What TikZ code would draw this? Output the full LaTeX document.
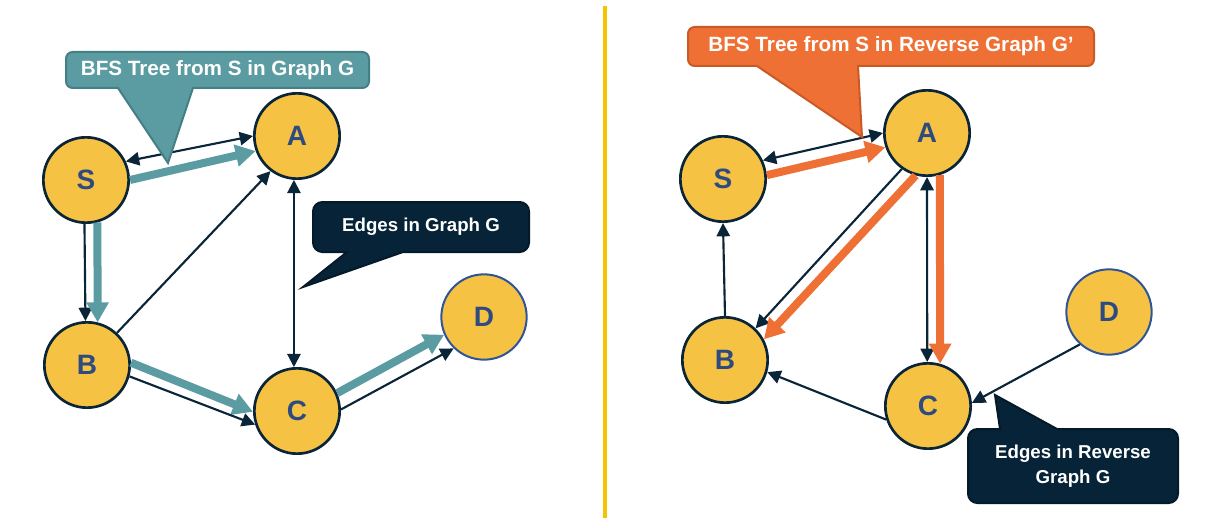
\documentclass[tikz,border=0pt]{standalone}
\usepackage{fontspec}
\setmainfont{Liberation Sans}
\usetikzlibrary{arrows.meta}
\definecolor{nodefill}{HTML}{F6C244}
\definecolor{lettercol}{HTML}{2E4B80}
\definecolor{edgecol}{HTML}{0B2538}
\definecolor{tealc}{HTML}{5B9BA2}
\definecolor{tealdark}{HTML}{457F86}
\definecolor{orangec}{HTML}{EF7035}
\definecolor{orangedark}{HTML}{C95A25}
\definecolor{darkbox}{HTML}{062338}
\definecolor{darkboxline}{HTML}{041A2A}
\definecolor{goldline}{HTML}{F7C200}
\definecolor{dborder}{HTML}{2F5597}
\begin{document}
\begin{tikzpicture}[x=0.75pt,y=-0.75pt,
  vertex/.style={circle,draw=edgecol,line width=2pt,fill=nodefill,minimum size=64pt,inner sep=0pt,text=lettercol,font=\fontsize{21}{24}\selectfont\bfseries},
  dvertex/.style={vertex,draw=dborder,line width=1.5pt},
  thinedge/.style={draw=edgecol,line width=1.6pt,-{Triangle[length=10pt,width=10pt]}},
  bothedge/.style={draw=edgecol,line width=1.6pt,{Triangle[length=10pt,width=10pt]}-{Triangle[length=10pt,width=10pt]}},
  treeedge/.style={line width=6pt,-{Triangle[length=15pt,width=16pt]}},
  tealtree/.style={treeedge,draw=tealc},
  orangetree/.style={treeedge,draw=orangec},
  calloutshape/.style={line width=1.5pt},
  titletext/.style={text=white,font=\fontsize{15.5}{18}\selectfont\bfseries,inner sep=0pt},
  notetext/.style={text=white,font=\fontsize{14}{17}\selectfont\bfseries,inner sep=0pt,align=center},
  divider/.style={draw=goldline,line width=3pt}
]
\useasboundingbox (0,0) rectangle (1217,528);

% divider
\coordinate (dtop) at (605,6);
\coordinate (dbot) at (605,518);
\draw[divider] (dtop) -- (dbot);

% ---------- left graph ----------
\node[vertex] (S) at (86,180) {S};
\node[vertex] (A) at (297,136) {A};
\node[vertex] (B) at (87,365) {B};
\node[vertex] (C) at (297,411) {C};
\node[dvertex] (D) at (484,317) {D};

\draw[bothedge] (S.25) -- (A.180);
\draw[tealtree] (S.0) -- (A.200);
\draw[thinedge] (S.268) -- (B.92);
\draw[tealtree] (S.285) -- (B.76);
\draw[thinedge] (B.47) -- (A.233);
\draw[bothedge] (A.266) -- (C.94);
\draw[tealtree] (B.3) -- (C.181);
\draw[thinedge] (B.345) -- (C.198);
\draw[tealtree] (C.24) -- (D.204);
\draw[thinedge] (C.2) -- (D.226);

% teal callout
\draw[calloutshape,draw=tealdark,fill=tealc]
  (193,88) -- (340,88) [rounded corners=5pt] -- (369,88) -- (369,52) -- (66,52) -- (66,88) -- (95,88) [sharp corners] -- (118,88) -- (168,163) -- cycle;
\node[titletext] (t1) at (217.5,70) {BFS Tree from S in Graph G};

% dark callout left
\draw[calloutshape,draw=darkboxline,fill=darkbox]
  (403,252) -- (500,252) [rounded corners=7pt] -- (529,252) -- (529,202) -- (313,202) -- (313,252) -- (332,252) [sharp corners] -- (347,252) -- (303,287) -- cycle;
\node[notetext] (n1) at (421,227) {Edges in Graph G};

% ---------- right graph ----------
\node[vertex] (S2) at (723,179) {S};
\node[vertex] (A2) at (927,133) {A};
\node[vertex] (B2) at (725,360) {B};
\node[vertex] (C2) at (928,406) {C};
\node[dvertex] (D2) at (1109,312) {D};

\draw[bothedge] (S2.25) -- (A2.180);
\draw[orangetree] (S2.5) -- (A2.199);
\draw[thinedge] (A2.235) -- (B2.46);
\draw[orangetree] (A2.255) -- (B2.28);
\draw[thinedge] (B2.90) -- (S2.270);
\draw[bothedge] (A2.270) -- (C2.91);
\draw[orangetree] (A2.287) -- (C2.74);
\draw[thinedge] (C2.198) -- (B2.344);
\draw[thinedge] (D2.228) -- (C2.4);

% orange callout
\draw[calloutshape,draw=orangedark,fill=orangec]
  (858,66) -- (1060,66) [rounded corners=5pt] -- (1094,66) -- (1094,27) -- (688,27) -- (688,66) -- (720,66) [sharp corners] -- (757,66) -- (862,137) -- cycle;
\node[titletext] (t2) at (891,46.5) {BFS Tree from S in Reverse Graph G’};

% dark callout right
\draw[calloutshape,draw=darkboxline,fill=darkbox]
  (1000,429) -- (985,429) [rounded corners=7pt] -- (968,429) -- (968,503) -- (1178,503) -- (1178,429) -- (1150,429) [sharp corners] -- (1057,429) -- (995,395) -- cycle;
\node[notetext] (n2) at (1073,466) {Edges in Reverse\\[1.5pt]Graph G};
\end{tikzpicture}
\end{document}
